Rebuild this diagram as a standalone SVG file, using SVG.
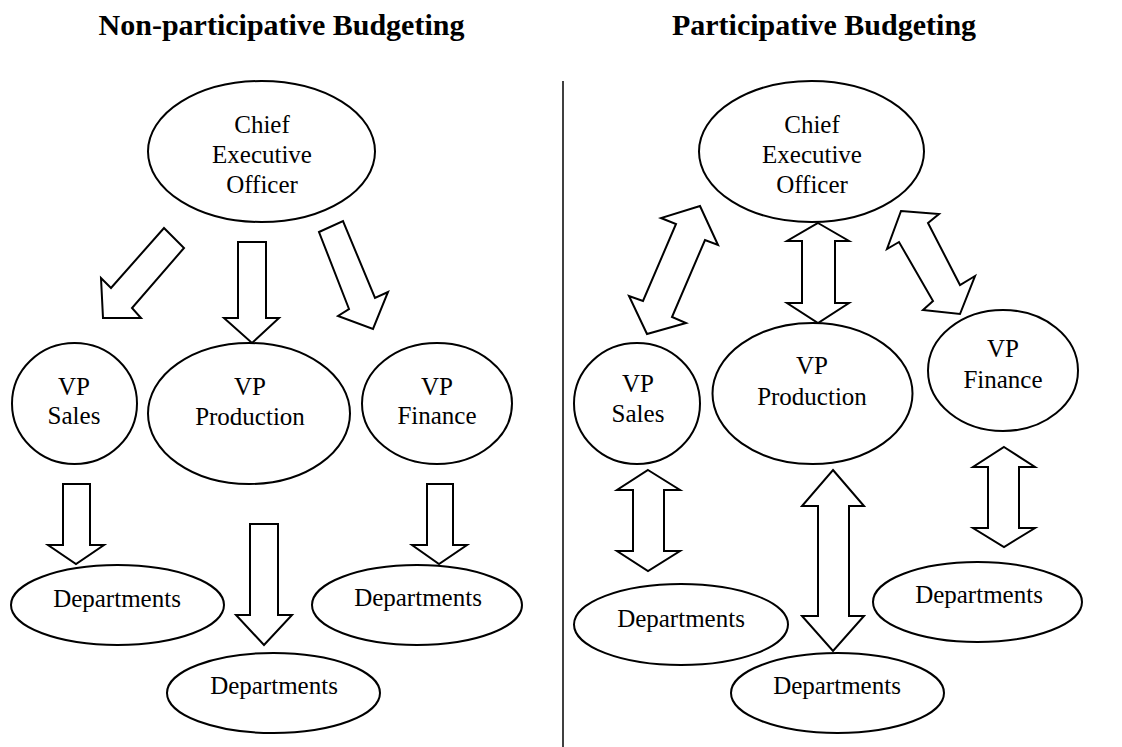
<svg xmlns="http://www.w3.org/2000/svg" width="1122" height="747" viewBox="0 0 1122 747">
  <style>
    .shape { fill: #ffffff; stroke: #000000; stroke-width: 2; stroke-linejoin: miter; }
    .label { font-family: "Liberation Serif", "Times New Roman", serif; font-size: 25px; fill: #000000; text-anchor: middle; }
    .title { font-family: "Liberation Serif", "Times New Roman", serif; font-size: 30px; font-weight: bold; fill: #000000; text-anchor: middle; }
    .divider { stroke: #000000; stroke-width: 1.5; }
  </style>
  <rect width="1122" height="747" fill="#ffffff"/>

  <!-- Section titles -->
  <text class="title" x="281.5" y="35">Non-participative Budgeting</text>
  <text class="title" x="824" y="35">Participative Budgeting</text>

  <!-- Divider between the two layouts -->
  <line class="divider" x1="563" y1="81" x2="563" y2="747"/>

  <!-- Connectors: block arrows -->
  <g id="connectors">
    <!-- Non-participative: one-way, top-down -->
    <polygon class="shape" points="164,228 184,248 132,308 141,318 103,318 101,278 111,288"/>
    <polygon class="shape" points="238,242 266,242 266,318 279,318 252,343 224,318 238,318"/>
    <polygon class="shape" points="319,232 343,221 375,298 388,292 373,329 338,316 349,309"/>
    <polygon class="shape" points="63,484 90,484 90,545 104,545 76,564 48,545 63,545"/>
    <polygon class="shape" points="250,524 278,524 278,615 292,615 264,645 236,615 250,615"/>
    <polygon class="shape" points="427,484 453,484 453,545 467,545 439,564 412,545 427,545"/>

    <!-- Participative: two-way -->
    <polygon class="shape" points="700,206 718,245 705,240 672,317 686,323 647,334 629,296 643,301 676,224 661,218"/>
    <polygon class="shape" points="818,223 849,241 835,241 835,303 849,303 818,323 787,303 802,303 802,241 787,241"/>
    <polygon class="shape" points="901,211 939,214 928,223 960,285 975,276 960,314 923,310 933,301 899,242 887,249"/>
    <polygon class="shape" points="648,470 680,490 664,490 664,551 680,551 648,571 617,551 633,551 633,490 617,490"/>
    <polygon class="shape" points="833,470 864,506 849,506 849,616 864,616 833,651 802,616 818,616 818,506 802,506"/>
    <polygon class="shape" points="1004,447 1035,467 1019,467 1019,528 1035,528 1004,547 973,528 988,528 988,467 973,467"/>
  </g>

  <!-- Non-participative budgeting nodes -->
  <g id="np-ceo">
    <ellipse class="shape" cx="261.5" cy="151.5" rx="113.5" ry="70.5"/>
    <text class="label" x="262" y="133">Chief</text>
    <text class="label" x="262" y="163">Executive</text>
    <text class="label" x="262" y="193">Officer</text>
  </g>
  <g id="np-vp-sales">
    <ellipse class="shape" cx="74.5" cy="403.5" rx="62.5" ry="60.5"/>
    <text class="label" x="74" y="395">VP</text>
    <text class="label" x="74" y="424">Sales</text>
  </g>
  <g id="np-vp-production">
    <ellipse class="shape" cx="249" cy="413.5" rx="101" ry="70.5"/>
    <text class="label" x="250" y="395">VP</text>
    <text class="label" x="250" y="425">Production</text>
  </g>
  <g id="np-vp-finance">
    <ellipse class="shape" cx="437" cy="403.5" rx="75" ry="60.5"/>
    <text class="label" x="437" y="395">VP</text>
    <text class="label" x="437" y="424">Finance</text>
  </g>
  <g id="np-dept-sales">
    <ellipse class="shape" cx="117.5" cy="605" rx="106.5" ry="40"/>
    <text class="label" x="117" y="607">Departments</text>
  </g>
  <g id="np-dept-production">
    <ellipse class="shape" cx="273.5" cy="693" rx="106.5" ry="40"/>
    <text class="label" x="274" y="694">Departments</text>
  </g>
  <g id="np-dept-finance">
    <ellipse class="shape" cx="417" cy="605" rx="105" ry="40"/>
    <text class="label" x="418" y="606">Departments</text>
  </g>

  <!-- Participative budgeting nodes -->
  <g id="p-ceo">
    <ellipse class="shape" cx="811.5" cy="151.5" rx="112.5" ry="70.5"/>
    <text class="label" x="812" y="133">Chief</text>
    <text class="label" x="812" y="163">Executive</text>
    <text class="label" x="812" y="193">Officer</text>
  </g>
  <g id="p-vp-sales">
    <ellipse class="shape" cx="637" cy="403.5" rx="63" ry="60.5"/>
    <text class="label" x="638" y="392">VP</text>
    <text class="label" x="638" y="422">Sales</text>
  </g>
  <g id="p-vp-production">
    <ellipse class="shape" cx="812.5" cy="393.5" rx="100" ry="70.5"/>
    <text class="label" x="812" y="374">VP</text>
    <text class="label" x="812" y="405">Production</text>
  </g>
  <g id="p-vp-finance">
    <ellipse class="shape" cx="1003" cy="370.5" rx="75" ry="60.5"/>
    <text class="label" x="1003" y="357">VP</text>
    <text class="label" x="1003" y="388">Finance</text>
  </g>
  <g id="p-dept-sales">
    <ellipse class="shape" cx="681" cy="624.5" rx="107" ry="40.5"/>
    <text class="label" x="681" y="627">Departments</text>
  </g>
  <g id="p-dept-production">
    <ellipse class="shape" cx="837.5" cy="693" rx="106.5" ry="40"/>
    <text class="label" x="837" y="694">Departments</text>
  </g>
  <g id="p-dept-finance">
    <ellipse class="shape" cx="977.5" cy="602" rx="104.5" ry="40"/>
    <text class="label" x="979" y="603">Departments</text>
  </g>
</svg>
